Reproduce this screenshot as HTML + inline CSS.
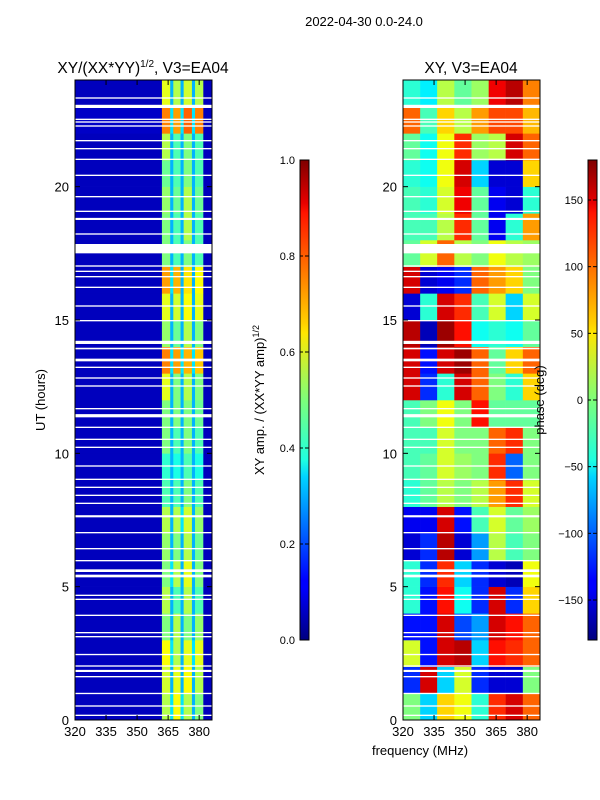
<!DOCTYPE html>
<html><head><meta charset="utf-8"><style>
html,body{margin:0;padding:0;background:#fff;}
svg{display:block;font-family:"Liberation Sans",sans-serif;}
</style></head><body>
<svg id="fig" width="600" height="800" viewBox="0 0 600 800" xmlns="http://www.w3.org/2000/svg">
<defs>
<linearGradient id="jet" x1="0" y1="1" x2="0" y2="0">
<stop offset="0" stop-color="#00007f"/><stop offset="0.11" stop-color="#0000ff"/><stop offset="0.125" stop-color="#0000ff"/>
<stop offset="0.34" stop-color="#00d4ff"/><stop offset="0.375" stop-color="#1fffe0"/><stop offset="0.5" stop-color="#7dff7a"/><stop offset="0.64" stop-color="#ffe600"/>
<stop offset="0.66" stop-color="#ffd000"/><stop offset="0.89" stop-color="#ff1400"/><stop offset="0.91" stop-color="#e80000"/><stop offset="1" stop-color="#7f0000"/>
</linearGradient>
</defs>
<text x="364" y="26" font-size="13" text-anchor="middle">2022-04-30 0.0-24.0</text>
<text x="143" y="73" font-size="15.5" text-anchor="middle">XY/(XX*YY)<tspan font-size="10" dy="-6">1/2</tspan><tspan dy="6">, V3=EA04</tspan></text>
<text x="471" y="73" font-size="15.5" text-anchor="middle">XY, V3=EA04</text>
<g id="left"></g>
<g id="right"></g>
<g id="axes"></g>
<text transform="translate(45,400) rotate(-90)" font-size="13" text-anchor="middle">UT (hours)</text>
<text transform="translate(264,400) rotate(-90)" font-size="13" text-anchor="middle">XY amp. / (XX*YY amp)<tspan font-size="9" dy="-5">1/2</tspan></text>
<text transform="translate(544,400) rotate(-90)" font-size="13" text-anchor="middle">phase (deg)</text>
<text x="420" y="755" font-size="13" text-anchor="middle">frequency (MHz)</text>
</svg>
<script>
// ---- data ----
const ampBins = [320,362,366,367.5,371,372.5,376.5,378,382,386.2];
const ampRows = [
[0.06,0.55,0.35,0.62,0.35,0.55,0.3,0.5,0.06],
[0.06,0.58,0.3,0.6,0.3,0.62,0.3,0.55,0.06],
[0.06,0.62,0.35,0.55,0.3,0.6,0.35,0.6,0.06],
[0.06,0.5,0.3,0.55,0.3,0.5,0.3,0.52,0.06],
[0.06,0.55,0.3,0.45,0.3,0.55,0.3,0.45,0.06],
[0.06,0.5,0.35,0.55,0.3,0.6,0.3,0.5,0.06],
[0.06,0.52,0.3,0.5,0.3,0.55,0.3,0.48,0.06],
[0.06,0.55,0.3,0.55,0.35,0.58,0.3,0.52,0.06],
[0.06,0.45,0.3,0.45,0.3,0.5,0.3,0.45,0.06],
[0.06,0.42,0.3,0.4,0.3,0.45,0.3,0.4,0.06],
[0.06,0.5,0.3,0.45,0.3,0.5,0.3,0.45,0.06],
[0.06,0.5,0.3,0.5,0.3,0.5,0.3,0.48,0.06],
[0.06,0.6,0.3,0.5,0.3,0.55,0.3,0.5,0.06],
[0.06,0.75,0.35,0.72,0.35,0.7,0.35,0.68,0.06],
[0.06,0.52,0.3,0.48,0.3,0.55,0.3,0.5,0.06],
[0.06,0.6,0.3,0.58,0.3,0.62,0.3,0.6,0.06],
[0.06,0.72,0.35,0.7,0.3,0.65,0.3,0.62,0.06],
[0.06,0.5,0.3,0.45,0.3,0.5,0.3,0.45,0.06],
[0.06,0.5,0.3,0.45,0.3,0.55,0.3,0.45,0.06],
[0.06,0.52,0.3,0.48,0.3,0.55,0.3,0.48,0.06],
[0.06,0.48,0.3,0.45,0.3,0.5,0.3,0.45,0.06],
[0.06,0.55,0.3,0.45,0.3,0.5,0.3,0.45,0.06],
[0.07,0.75,0.35,0.72,0.35,0.78,0.35,0.75,0.06],
[0.06,0.6,0.3,0.55,0.3,0.58,0.3,0.55,0.06]
];
const phaseBins = [320,328.3,336.5,344.8,353.1,361.4,369.6,377.9,386.2];
const phaseRows = [
[0,-60,60,40,-30,120,150,100],
[-120,150,-60,30,-120,-150,-150,0],
[30,-130,150,160,-60,130,120,100],
[-130,-130,150,-110,-80,150,130,100],
[-30,-130,130,-40,-120,150,-120,60],
[-30,-120,120,-60,-120,-150,-160,40],
[-150,-120,160,-150,-80,20,-20,0],
[-140,-140,150,-130,-20,30,-10,10],
[-30,-10,20,0,20,80,120,30],
[-20,-10,30,10,0,120,-100,0],
[-20,-20,30,0,0,100,120,0],
[-20,0,40,0,130,-10,-10,-10],
[150,-120,-30,150,100,0,-30,60],
[150,-130,150,170,100,-10,60,100],
[160,-160,170,130,-40,-30,-40,-10],
[-150,-30,150,120,-20,30,-60,30],
[150,-150,-140,-120,100,80,60,0],
[-10,30,100,20,0,40,20,10],
[-20,-20,20,120,-10,-140,-30,80],
[-20,-30,30,140,-10,-140,-150,-30],
[-30,-40,40,150,-60,-150,-150,60],
[-10,-40,40,120,10,20,150,100],
[100,-20,60,20,80,110,110,70],
[-30,-50,20,-10,10,140,160,90]
];
const gapStart = [0.15,0.5,0.97,1.6,1.8,2.0,2.43,3.1,3.25,3.9,4.5,4.65,5.35,5.55,5.95,6.4,7.0,7.6,8.1,8.4,8.7,9.0,9.5,10.2,10.5,10.95,11.35,11.65,12.5,12.8,13.2,13.45,13.9,14.1,14.95,15.5,16.2,16.6,16.8,17.0,17.5,18.2,18.75,19.05,19.6,20.4,21.0,21.4,21.7,22.25,22.4,22.5,22.95,23.3];
const gapLen   = [0.05,0.05,0.05,0.05,0.08,0.05,0.05,0.05,0.05,0.05,0.05,0.05,0.1,0.1,0.05,0.05,0.05,0.08,0.05,0.05,0.05,0.05,0.05,0.05,0.05,0.05,0.12,0.05,0.05,0.05,0.05,0.1,0.06,0.12,0.05,0.05,0.05,0.05,0.05,0.05,0.35,0.05,0.08,0.05,0.05,0.05,0.05,0.05,0.05,0.05,0.05,0.05,0.12,0.05];
const yTicks = [0,5,10,15,20];
const xTicks = [320,335,350,365,380];
const ampCbTicks = [0,0.2,0.4,0.6,0.8,1.0];
const phCbTicks = [-150,-100,-50,0,50,100,150];
// ---- helpers ----
const NS="http://www.w3.org/2000/svg";
function jet(t){t=Math.max(0,Math.min(1,t));
 const f=(x)=>Math.max(0,Math.min(1,1.5-Math.abs(4*t-x)));
 return `rgb(${Math.round(255*f(3))},${Math.round(255*f(2))},${Math.round(255*f(1))})`;}
function mk(tag,attrs,parent){const e=document.createElementNS(NS,tag);for(const k in attrs)e.setAttribute(k,attrs[k]);parent.appendChild(e);return e;}
const Y0=720,Y1=80;
const yS=v=>Y0-(v/24)*(Y0-Y1);
function xS(x0,x1){return f=>x0+(f-320)/(386.2-320)*(x1-x0);}
const panels=[{g:'left',x0:75,x1:212},{g:'right',x0:403,x1:540}];
// left amp
(function(){const g=document.getElementById('left');const xs=xS(75,212);
 ampRows.forEach((row,r)=>row.forEach((v,c)=>{
  const e=mk('rect',{x:xs(ampBins[c]),y:yS(r+1),width:xs(ampBins[c+1])-xs(ampBins[c])+0.3,height:yS(r)-yS(r+1)+0.3,fill:jet(v)},g);
  
  
 }));})();
// right phase
(function(){const g=document.getElementById('right');const xs=xS(403,540);
 phaseRows.forEach((row,r)=>row.forEach((v,c)=>{
  const e=mk('rect',{x:xs(phaseBins[c]),y:yS(r+1),width:xs(phaseBins[c+1])-xs(phaseBins[c])+0.3,height:yS(r)-yS(r+1)+0.3,fill:jet((v+180)/360)},g);
  
  
 }));})();
// gaps, frames, ticks
const ax=document.getElementById('axes');
panels.forEach(p=>{
 gapStart.forEach((s,i)=>{
  const e=mk('rect',{x:p.x0,y:yS(s+gapLen[i]),width:p.x1-p.x0,height:Math.max(1.3,yS(s)-yS(s+gapLen[i])),fill:'#fff'},ax);
  
  
 });
 const fr=mk('rect',{x:p.x0,y:Y1,width:p.x1-p.x0,height:Y0-Y1,fill:'none',stroke:'#000','stroke-width':1},ax);
 
 
 const xs=xS(p.x0,p.x1);
 yTicks.forEach(t=>{const y=yS(t);
  mk('line',{x1:p.x0,x2:p.x0+5,y1:y,y2:y,stroke:'#000'},ax);mk('line',{x1:p.x1,x2:p.x1-5,y1:y,y2:y,stroke:'#000'},ax);
  const tx=mk('text',{x:p.x0-6,y:y+5,'font-size':13,'text-anchor':'end'},ax);tx.textContent=t;
  
  });
 xTicks.forEach(t=>{const x=xs(t);
  mk('line',{x1:x,x2:x,y1:Y0,y2:Y0-5,stroke:'#000'},ax);mk('line',{x1:x,x2:x,y1:Y1,y2:Y1+5,stroke:'#000'},ax);
  const tx=mk('text',{x:x,y:Y0+16,'font-size':13,'text-anchor':'middle'},ax);tx.textContent=t;
  
  });
});
// colorbars
[{x:300,ticks:ampCbTicks,lo:0,hi:1,fmt:v=>v.toFixed(1),n:'amp-colorbar'},{x:588,ticks:phCbTicks,lo:-180,hi:180,fmt:v=>v<0?'\u2212'+(-v):''+v,n:'phase-colorbar'}].forEach(cb=>{
 const r=mk('rect',{x:cb.x,y:160,width:9,height:480,fill:'url(#jet)',stroke:'#000','stroke-width':1},ax);
 
 
 cb.ticks.forEach(t=>{const y=640-(t-cb.lo)/(cb.hi-cb.lo)*480;
  mk('line',{x1:cb.x+9,x2:cb.x+5,y1:y,y2:y,stroke:'#000'},ax);mk('line',{x1:cb.x,x2:cb.x+3,y1:y,y2:y,stroke:'#000'},ax);
  const tx=mk('text',{x:cb.x-5,y:y+4,'font-size':11,'text-anchor':'end'},ax);tx.textContent=cb.fmt(t);
  
  });
});
</script>
</body></html>
